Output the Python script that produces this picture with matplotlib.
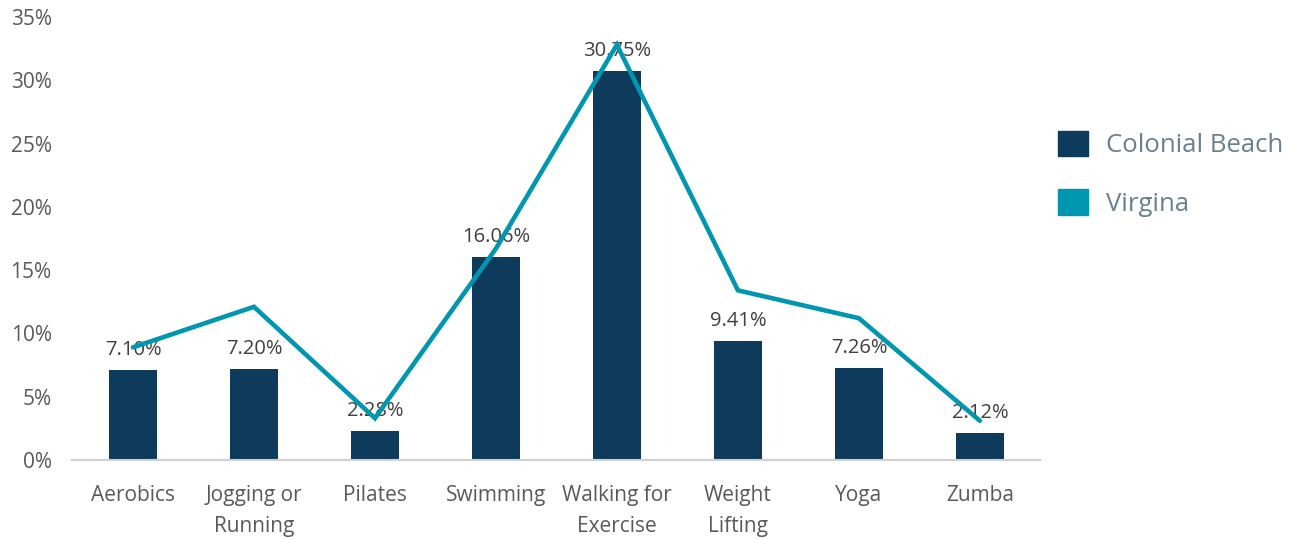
import numpy as np
import matplotlib.pyplot as plt
from matplotlib.patches import Patch

categories = ['Aerobics', 'Jogging or\nRunning', 'Pilates', 'Swimming',
              'Walking for\nExercise', 'Weight\nLifting', 'Yoga', 'Zumba']
colonial_beach = [7.10, 7.20, 2.28, 16.06, 30.75, 9.41, 7.26, 2.12]
virginia = [8.9, 12.1, 3.3, 16.7, 32.8, 13.4, 11.2, 3.1]
yticks = [0, 5, 10, 15, 20, 25, 30, 35]

bar_color = '#0E3A5B'
line_color = '#0096B0'

plt.rcParams['font.family'] = ['Open Sans', 'DejaVu Sans']

fig = plt.figure(figsize=(12.94, 5.39), dpi=100)
ax = fig.add_axes([0.056, 0.1466, 0.748, 0.822])

x = np.arange(len(categories))
ax.bar(x, colonial_beach, width=0.4, color=bar_color, zorder=2)
for xi, v in zip(x, colonial_beach):
    ax.annotate(f'{v:.2f}%', (xi, v), xytext=(0, 7), textcoords='offset points',
                ha='center', va='bottom', fontsize=14.5, color='#404040', zorder=3)
ax.plot(x, virginia, color=line_color, lw=3.3, solid_joinstyle='miter',
        solid_capstyle='round', zorder=4)

ax.set_xlim(-0.5, len(categories) - 0.5)
ax.set_ylim(0, 35)
ax.set_yticks(yticks)
ax.set_yticklabels([f'{t}%' for t in yticks])
ax.set_xticks(x)
ax.set_xticklabels(categories, linespacing=1.65)
ax.tick_params(axis='both', length=0, labelsize=15, labelcolor='#595959')
ax.tick_params(axis='x', pad=18)
ax.tick_params(axis='y', pad=15)
for s in ['top', 'right', 'left']:
    ax.spines[s].set_visible(False)
ax.spines['bottom'].set_color('#D0D0D0')
ax.spines['bottom'].set_linewidth(1.5)

handles = [Patch(color=bar_color, label='Colonial Beach'),
           Patch(color=line_color, label='Virgina')]
fig.legend(handles=handles, loc='upper left', bbox_to_anchor=(0.8, 0.8),
           frameon=False, fontsize=18.5, labelcolor='#6B7F8E',
           handlelength=1.15, handleheight=1.15, handletextpad=0.7, labelspacing=1.2)

fig.savefig('out.png', dpi=100)
